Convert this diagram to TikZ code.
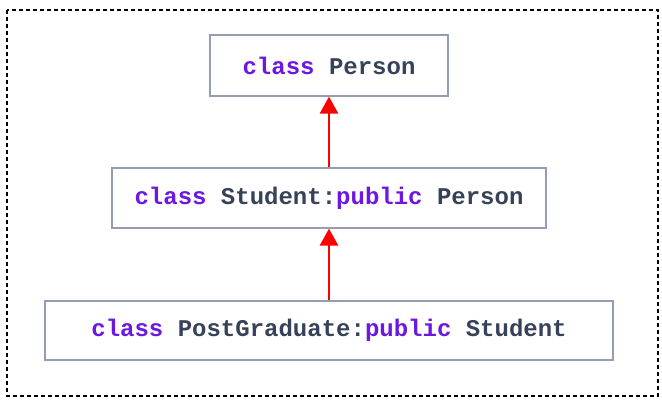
\documentclass[tikz,border=0pt]{standalone}
\usepackage{fontspec}
\setmonofont{Liberation Mono}
\usetikzlibrary{arrows.meta}
\definecolor{kw}{RGB}{108,24,226}
\definecolor{txt}{RGB}{55,66,88}
\definecolor{boxline}{RGB}{150,156,180}
\tikzset{
  cls/.style={draw=boxline, line width=1.2pt, fill=white, inner sep=0pt, font=\ttfamily\bfseries\fontsize{24}{27}\selectfont, text=txt},
  inh/.style={draw=red, line width=2.8pt, -{Triangle[length=17pt,width=18pt]}}
}
\newcommand{\kwd}[1]{\textcolor{kw}{#1}}
\begin{document}
\begin{tikzpicture}[x=1pt,y=-1pt]
\useasboundingbox (0,0) rectangle (662,400);
\draw[black, line width=1.2pt, dash pattern=on 4pt off 3pt] (7,10) rectangle (658,396);
\node[cls, minimum width=238pt, minimum height=61pt] (p) at (329,65.5) {\kwd{class} Person};
\node[cls, minimum width=434pt, minimum height=60pt] (s) at (329,198) {\kwd{class} Student:\kwd{public} Person};
\node[cls, minimum width=568pt, minimum height=59pt] (g) at (329,330.5) {\kwd{class} PostGraduate:\kwd{public} Student};
\draw[inh] (s.north) -- (p.south);
\draw[inh] (g.north) -- (s.south);
\end{tikzpicture}
\end{document}
